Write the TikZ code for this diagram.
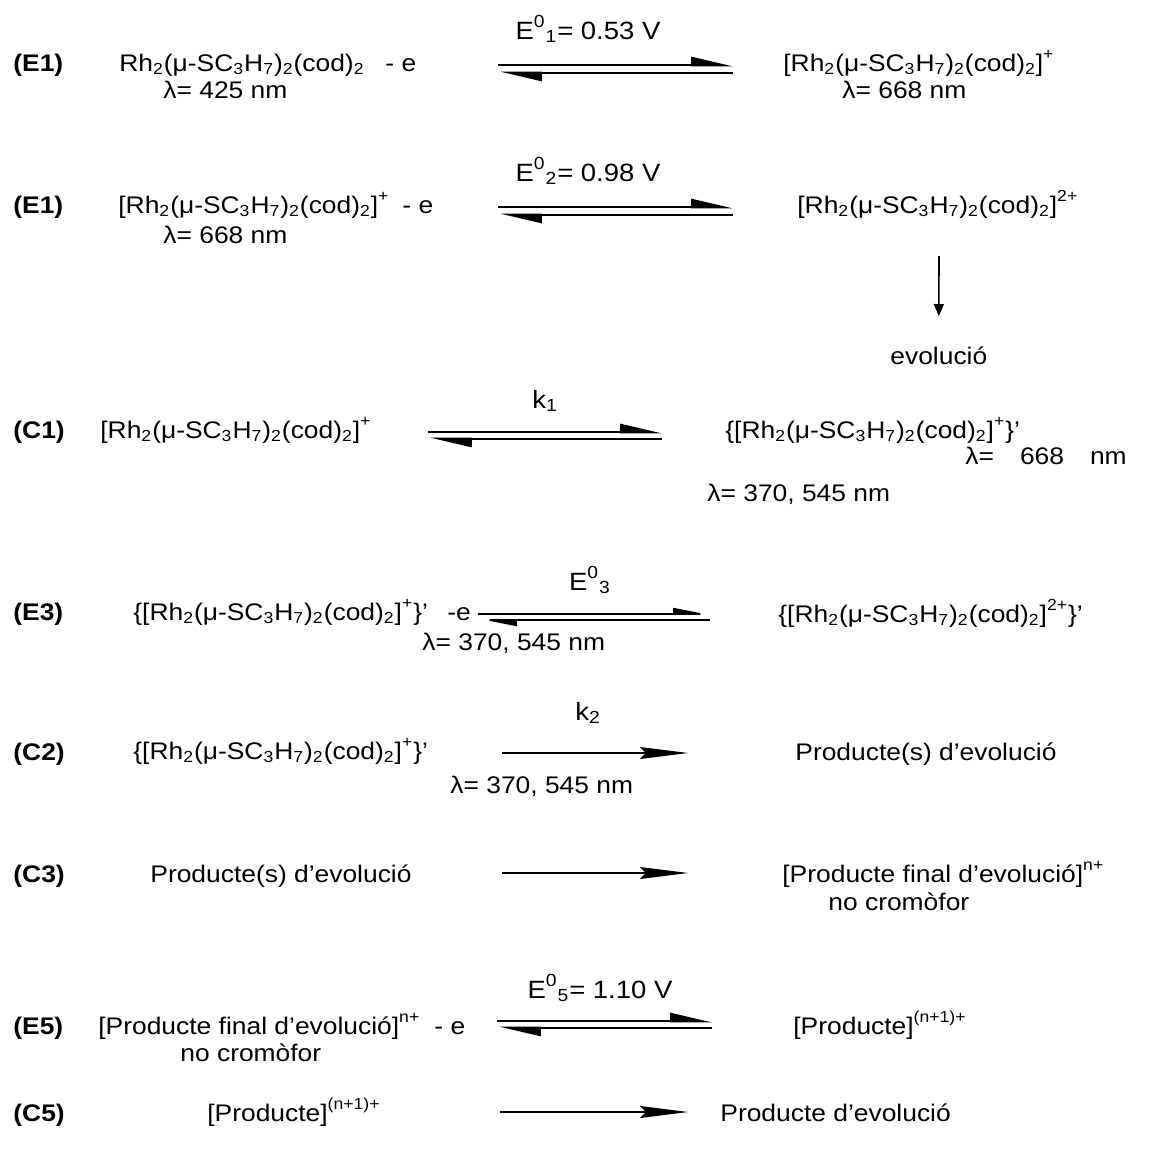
\documentclass[tikz,border=0pt]{standalone}
\usepackage{fontspec}
\setmainfont{Liberation Sans}[FakeStretch=1.1]
\usetikzlibrary{arrows.meta}

\newcommand{\rhcore}{Rh\textsubscript{2}(μ-SC\textsubscript{3}H\textsubscript{7})\textsubscript{2}(cod)\textsubscript{2}}
\newcommand{\sub}[1]{\textsubscript{#1}}
\newcommand{\supr}[1]{\raisebox{1.5pt}{\textsuperscript{#1}}}

\tikzset{
  txt/.style={anchor=base west, inner sep=0pt, font=\fontsize{12}{14}\selectfont},
  ctr/.style={anchor=base, inner sep=0pt, font=\fontsize{12.5}{14}\selectfont},
  lbl/.style={txt, font=\fontsize{12}{14}\selectfont\bfseries},
  eqfwd/.style={line width=1.3pt, -{Triangle[harpoon, length=18pt, width=8pt]}},
  eqthin/.style={line width=0.9pt, -{Triangle[harpoon, length=16pt, width=6pt]}},
  fwd/.style={line width=0.6pt, -{Stealth[length=24pt, width=6pt, inset=3pt]}},
  down/.style={line width=0.8pt, -{Triangle[length=6pt, width=5pt]}}
}

\begin{document}
\begin{tikzpicture}[x=0.5pt, y=-0.5pt]
        \useasboundingbox (0,0) rectangle (1149,1153);

        % E1, first oxidation
        \node[lbl] (e1lbl) at (13,71) {(E1)};
        \node[txt] (e1left) at (119,71) {\rhcore};
        \node[txt] (e1e) at (385,71) {- e};
        \node[txt] (e1lam) at (163,98) {λ= 425 nm};
        \node[ctr] (e1pot) at (588,39) {E\supr{0}\sub{1}= 0.53 V};
        \node[txt] (e1right) at (783,71) {[\rhcore]\supr{+}};
        \node[txt] (e1rlam) at (842,98) {λ= 668 nm};
        \coordinate (e1a) at (498,65);
        \coordinate (e1b) at (733,65);
        \coordinate (e1c) at (733,73);
        \coordinate (e1d) at (500,73);
        \draw[eqfwd] (e1a) -- (e1b);
        \draw[eqfwd] (e1c) -- (e1d);

        % E1, second oxidation
        \node[lbl] (e2lbl) at (13,213) {(E1)};
        \node[txt] (e2left) at (118,213) {[\rhcore]\supr{+}};
        \node[txt] (e2e) at (402,213) {- e};
        \node[txt] (e2lam) at (163,243) {λ= 668 nm};
        \node[ctr] (e2pot) at (588,181) {E\supr{0}\sub{2}= 0.98 V};
        \node[txt] (e2right) at (797,213) {[\rhcore]\supr{2+}};
        \coordinate (e2a) at (498,207);
        \coordinate (e2b) at (733,207);
        \coordinate (e2c) at (733,215);
        \coordinate (e2d) at (500,215);
        \draw[eqfwd] (e2a) -- (e2b);
        \draw[eqfwd] (e2c) -- (e2d);
        \node[txt] (evol) at (890,364) {evolució};
        \coordinate (downtop) at (939,256);
        \draw[down] (downtop) -- (evol.north |- 0,316);

        % C1
        \node[lbl] (c1lbl) at (13,438) {(C1)};
        \node[txt] (c1left) at (100,438) {[\rhcore]\supr{+}};
        \node[ctr] (c1k) at (545,408) {k\sub{1}};
        \node[txt] (c1right) at (725,438) {\{[\rhcore]\supr{+}\}’};
        \node[txt] (c1rlam) at (965,464) {λ=\hspace{13pt}668\hspace{13pt}nm};
        \node[txt] (c1lam) at (707,501) {λ= 370, 545 nm};
        \coordinate (c1a) at (428,432);
        \coordinate (c1b) at (662,432);
        \coordinate (c1c) at (662,439);
        \coordinate (c1d) at (430,439);
        \draw[eqfwd] (c1a) -- (c1b);
        \draw[eqfwd] (c1c) -- (c1d);

        % E3
        \node[lbl] (e3lbl) at (13,620) {(E3)};
        \node[txt] (e3left) at (133,620) {\{[\rhcore]\supr{+}\}’};
        \node[txt] (e3e) at (447,620) {-e};
        \node[txt] (e3lam) at (422,650) {λ= 370, 545 nm};
        \node[ctr] (e3pot) at (590,590) {E\supr{0}\sub{3}};
        \node[txt] (e3right) at (778,622) {\{[\rhcore]\supr{2+}\}’};
        \coordinate (e3a) at (478,614);
        \coordinate (e3b) at (710,614);
        \coordinate (e3c) at (710,620);
        \coordinate (e3d) at (480,620);
        \draw[eqthin] (e3a) -- (e3b);
        \draw[eqthin] (e3c) -- (e3d);

        % C2
        \node[lbl] (c2lbl) at (13,760) {(C2)};
        \node[txt] (c2left) at (133,759) {\{[\rhcore]\supr{+}\}’};
        \node[ctr] (c2k) at (588,720) {k\sub{2}};
        \node[txt] (c2lam) at (450,793) {λ= 370, 545 nm};
        \node[txt] (c2right) at (795,760) {Producte(s) d’evolució};
        \coordinate (c2a) at (502,753);
        \coordinate (c2b) at (688,753);
        \draw[fwd] (c2a) -- (c2b);

        % C3
        \node[lbl] (c3lbl) at (13,882) {(C3)};
        \node[txt] (c3left) at (150,882) {Producte(s) d’evolució};
        \node[txt] (c3right) at (782,882) {[Producte final d’evolució]\supr{n+}};
        \node[txt] (c3note) at (828,910) {no cromòfor};
        \coordinate (c3a) at (502,873);
        \coordinate (c3b) at (688,873);
        \draw[fwd] (c3a) -- (c3b);

        % E5
        \node[lbl] (e5lbl) at (13,1034) {(E5)};
        \node[txt] (e5left) at (98,1034) {[Producte final d’evolució]\supr{n+}};
        \node[txt] (e5e) at (434,1034) {- e};
        \node[txt] (e5note) at (180,1061) {no cromòfor};
        \node[ctr] (e5pot) at (600,998) {E\supr{0}\sub{5}= 1.10 V};
        \node[txt] (e5right) at (793,1034) {[Producte]\supr{(n+1)+}};
        \coordinate (e5a) at (497,1021);
        \coordinate (e5b) at (712,1021);
        \coordinate (e5c) at (712,1028);
        \coordinate (e5d) at (499,1028);
        \draw[eqfwd] (e5a) -- (e5b);
        \draw[eqfwd] (e5c) -- (e5d);

        % C5
        \node[lbl] (c5lbl) at (13,1121) {(C5)};
        \node[txt] (c5left) at (207,1121) {[Producte]\supr{(n+1)+}};
        \node[txt] (c5right) at (720,1121) {Producte d’evolució};
        \coordinate (c5a) at (500,1112);
        \coordinate (c5b) at (688,1112);
        \draw[fwd] (c5a) -- (c5b);
\end{tikzpicture}
\end{document}
